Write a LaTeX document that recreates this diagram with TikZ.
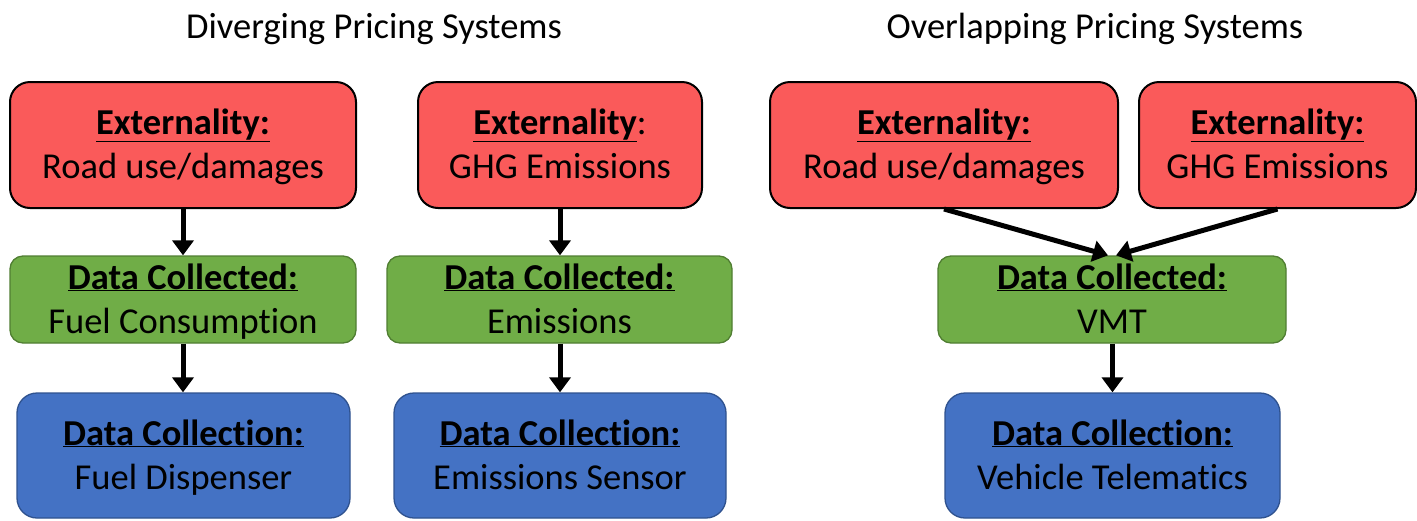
\documentclass[tikz,border=0pt]{standalone}
\usepackage{fontspec}
\setmainfont{Carlito}[Ligatures=NoCommon]
\usetikzlibrary{arrows.meta}
\definecolor{extred}{HTML}{FA5A5A}
\definecolor{datagreen}{HTML}{70AD47}
\definecolor{datagreenb}{HTML}{507E32}
\definecolor{colblue}{HTML}{4472C4}
\definecolor{colblueb}{HTML}{2F528F}
% header line (bold, underlined) and body line, with fixed struts so every
% box places its two baselines the same way
\newcommand{\hd}[1]{\rule{0pt}{33pt}\textbf{\underline{#1}}}
\newcommand{\bd}[1]{#1\rule[-10pt]{0pt}{10pt}}
\tikzset{
  box/.style={rectangle, align=center, inner sep=0pt,
    font=\fontsize{36.5}{44}\selectfont},
  extbox/.style={box, fill=extred, draw=black, line width=2pt,
    rounded corners=20pt, minimum height=126pt},
  datbox/.style={box, fill=datagreen, draw=datagreenb, line width=1.3pt,
    rounded corners=13pt, minimum height=85pt},
  colbox/.style={box, fill=colblue, draw=colblueb, line width=1.3pt,
    rounded corners=20pt, minimum height=125pt},
  title/.style={font=\fontsize{36.5}{40}\selectfont, anchor=base},
  flow/.style={line width=5pt, -{Triangle[length=15pt,width=21pt]}}
}
\begin{document}
\begin{tikzpicture}[x=1pt,y=-1pt]
\useasboundingbox (0,0) rectangle (1417,520);

% headings
\node[title] (t1) at (374,38) {Diverging Pricing Systems};
\node[title] (t2) at (1095,38) {Overlapping Pricing Systems};

% diverging: road use
\node[extbox, minimum width=346pt] (r1) at (183,145) {\hd{Externality:}\\\bd{Road use/damages}};
\node[datbox, minimum width=346pt] (g1) at (183,299.5) {\hd{Data Collected:}\\\bd{Fuel Consumption}};
\node[colbox, minimum width=333pt] (b1) at (183.5,455.5) {\hd{Data Collection:}\\\bd{Fuel Dispenser}};

% diverging: emissions
\node[extbox, minimum width=284pt] (r2) at (560,145) {\hd{Externality}:\\\bd{GHG Emissions}};
\node[datbox, minimum width=345pt] (g2) at (559.5,299.5) {\hd{Data Collected:}\\\bd{Emissions}};
\node[colbox, minimum width=332pt] (b2) at (560,455.5) {\hd{Data Collection:}\\\bd{Emissions Sensor}};

% overlapping
\node[extbox, minimum width=348pt] (r3) at (944,145) {\hd{Externality:}\\\bd{Road use/damages}};
\node[extbox, minimum width=277pt] (r4) at (1277.5,145) {\hd{Externality:}\\\bd{GHG Emissions}};
\node[datbox, minimum width=348pt] (g3) at (1112,299.5) {\hd{Data Collected:}\\\bd{VMT}};
\node[colbox, minimum width=335pt] (b3) at (1112.5,455.5) {\hd{Data Collection:}\\\bd{Vehicle Telematics}};

% connectors
\draw[flow] (r1.south) -- (g1.north);
\draw[flow] (g1.south) -- (b1.north -| g1.south);
\draw[flow] (r2.south) -- (g2.north -| r2.south);
\draw[flow] (g2.south -| r2.south) -- (b2.north);
\draw[flow] (r3.south) -- ([xshift=-4pt]g3.north);
\draw[flow] (r4.south) -- ([xshift=4pt]g3.north);
\draw[flow] (g3.south -| b3.north) -- (b3.north);
\end{tikzpicture}
\end{document}
